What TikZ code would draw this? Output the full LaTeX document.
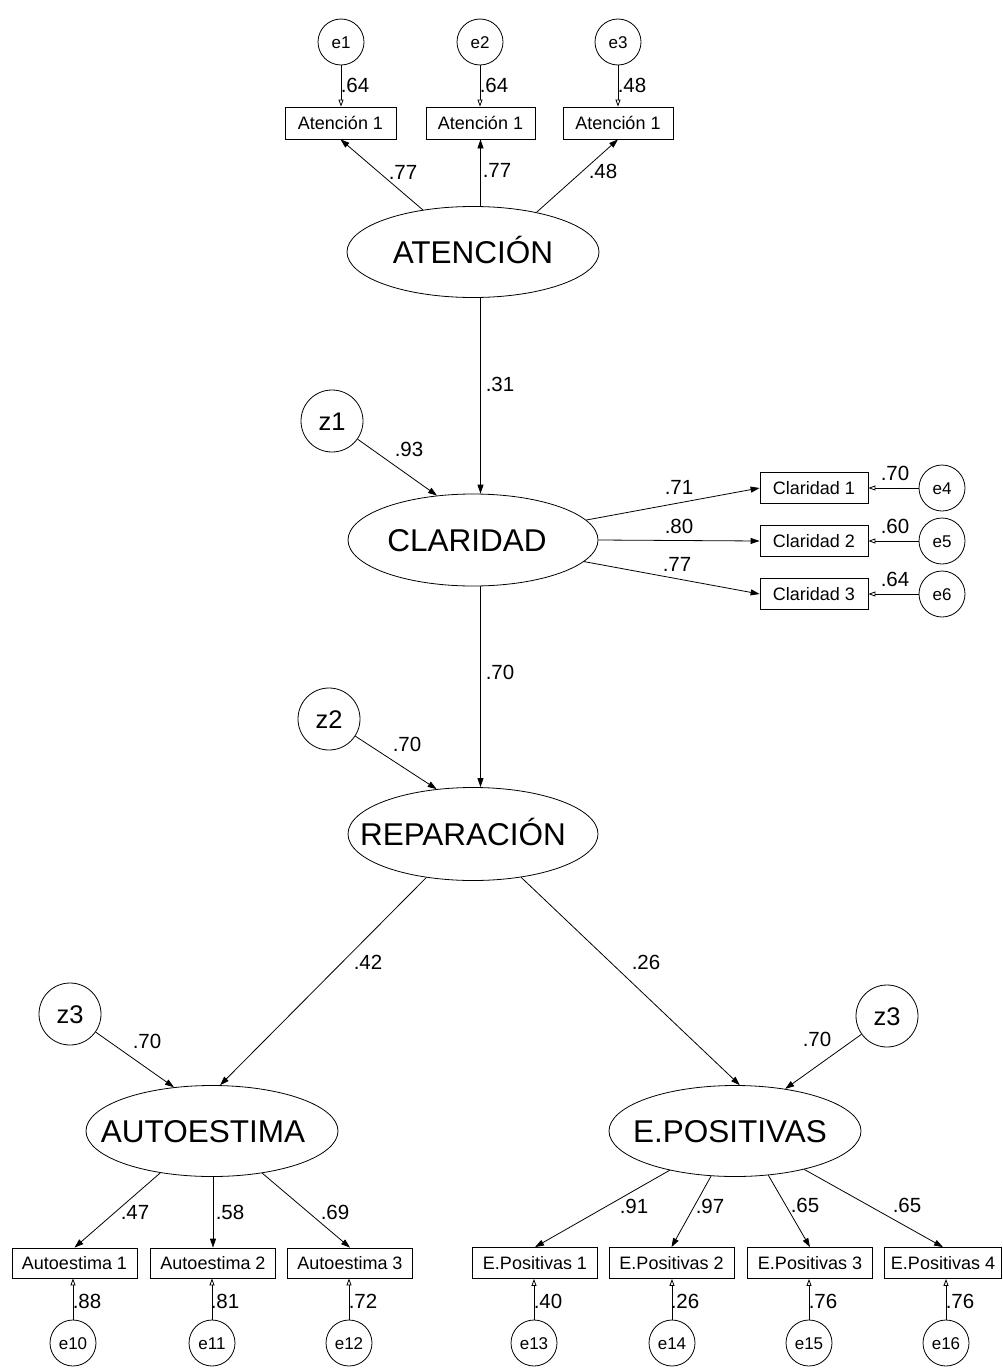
\documentclass[tikz,border=0pt]{standalone}
\usepackage{fontspec}
\setmainfont{Liberation Sans}
\usetikzlibrary{arrows.meta,shapes.geometric}

% latent label nudged sideways inside its ellipse (kern = -2 x shift)
\newcommand\latlabel[2]{\makebox[0pt]{\kern#1 #2}}

\begin{document}
\begin{tikzpicture}[x=1pt,y=-1pt,
  every path/.style={line width=0.8pt},
  lat/.style={ellipse, draw, minimum width=252pt, minimum height=91pt, inner sep=0pt,
    font=\fontsize{31.5}{32}\selectfont, text height=22.6pt, text depth=0pt},
  obs/.style={rectangle, draw, minimum height=31pt, inner sep=0pt,
    font=\fontsize{18}{20}\selectfont, text height=12.9pt, text depth=0pt},
  err/.style={circle, draw, minimum size=46pt, inner sep=0pt,
    font=\fontsize{17}{18}\selectfont, text height=12.2pt, text depth=0pt},
  dist/.style={circle, draw, minimum size=62pt, inner sep=0pt,
    font=\fontsize{25.5}{26}\selectfont, text height=18.3pt, text depth=0pt},
  coef/.style={inner sep=0pt, font=\fontsize{20.5}{22}\selectfont,
    text height=14.7pt, text depth=0pt},
  path/.style={-{Triangle[length=9pt,width=6pt]}},
  errpath/.style={-{Triangle[open,length=7pt,width=5pt]}}
]
\useasboundingbox (0,0) rectangle (1003,1370);

% ---------- latent variables ----------
\node[lat] (ate) at (473,252) {ATENCIÓN};
\node[lat, minimum width=250pt, minimum height=92pt] (cla) at (473,540) {\latlabel{-12pt}{CLARIDAD}};
\node[lat, minimum width=250pt, minimum height=93pt] (rep) at (473,834) {\latlabel{-20pt}{REPARACIÓN}};
\node[lat] (au) at (212,1131) {\latlabel{-18pt}{AUTOESTIMA}};
\node[lat] (ep) at (735,1131) {\latlabel{-10pt}{E.POSITIVAS}};

% ---------- disturbances ----------
\node[dist] (z1) at (332,421) {z1};
\node[dist] (z2) at (329,719) {z2};
\node[dist] (z3a) at (70,1014) {z3};
\node[dist] (z3b) at (887,1016) {z3};

% ---------- indicators: Atención ----------
\node[obs, minimum width=111pt, minimum height=32pt] (b1) at (340.5,123) {Atención 1};
\node[obs, minimum width=109pt, minimum height=32pt] (b2) at (480.5,123) {Atención 1};
\node[obs, minimum width=110pt, minimum height=32pt] (b3) at (618,123) {Atención 1};
\node[err] (e1) at (341,42) {e1};
\node[err] (e2) at (480,42) {e2};
\node[err] (e3) at (618,42) {e3};

% ---------- indicators: Claridad ----------
\node[obs, minimum width=108pt] (c1) at (814,488) {Claridad 1};
\node[obs, minimum width=108pt] (c2) at (814,541) {Claridad 2};
\node[obs, minimum width=108pt] (c3) at (814,594) {Claridad 3};
\node[err] (e4) at (942,488) {e4};
\node[err] (e5) at (942,541) {e5};
\node[err] (e6) at (942,594) {e6};

% ---------- indicators: Autoestima ----------
\node[obs, minimum width=125pt, minimum height=30pt] (a1) at (74.5,1263) {Autoestima 1};
\node[obs, minimum width=125pt, minimum height=30pt] (a2) at (213,1263) {Autoestima 2};
\node[obs, minimum width=125pt, minimum height=30pt] (a3) at (350,1263) {Autoestima 3};
\node[err] (e10) at (73,1343) {e10};
\node[err] (e11) at (212,1343) {e11};
\node[err] (e12) at (349,1343) {e12};

% ---------- indicators: E.Positivas ----------
\node[obs, minimum width=125pt] (p1) at (535,1263) {E.Positivas 1};
\node[obs, minimum width=125pt] (p2) at (671.5,1263) {E.Positivas 2};
\node[obs, minimum width=125pt] (p3) at (810,1263) {E.Positivas 3};
\node[obs, minimum width=117pt] (p4) at (943,1263) {E.Positivas 4};
\node[err] (e13) at (534,1343) {e13};
\node[err] (e14) at (672,1343) {e14};
\node[err] (e15) at (809,1343) {e15};
\node[err] (e16) at (946,1343) {e16};

% ---------- structural paths ----------
\draw[path] (ate.south -| b2) -- (cla.north -| b2);
\draw[path] (cla.south -| b2) -- (rep.north -| b2);
\draw[path] (rep.223) -- (au.80);
\draw[path] (rep.318) -- (ep.84);
\draw[path] (z1) -- (cla.129);
\draw[path] (z2) -- (rep.129);
\draw[path] (z3a) -- (au.131);
\draw[path] (z3b) -- (ep.40);

% ---------- loadings ----------
\draw[path] (ate.140.6) -- (b1.south);
\draw[path] (ate.north -| b2) -- (b2.south);
\draw[path] (ate.32) -- (b3.south);
\draw[path] (cla.10.2) -- (c1.west);
\draw[path] (cla.east) -- (c2.west);
\draw[path] (cla.349.4) -- (c3.west);
\draw[path] (au.219.5) -- (a1.north);
\draw[path] (au.south -| a2) -- (a2.north);
\draw[path] (au.320) -- (a3.north);
\draw[path] (ep.211.6) -- (p1.north);
\draw[path] (ep.242) -- (p2.north);
\draw[path] (ep.307) -- (p3.north);
\draw[path] (ep.331) -- (p4.north);

% ---------- measurement errors ----------
\draw[errpath] (e1) -- (e1 |- b1.north);
\draw[errpath] (e2) -- (e2 |- b2.north);
\draw[errpath] (e3) -- (e3 |- b3.north);
\draw[errpath] (e4) -- (c1.east);
\draw[errpath] (e5) -- (c2.east);
\draw[errpath] (e6) -- (c3.east);
\draw[errpath] (e10) -- (e10 |- a1.south);
\draw[errpath] (e11) -- (e11 |- a2.south);
\draw[errpath] (e12) -- (e12 |- a3.south);
\draw[errpath] (e13) -- (e13 |- p1.south);
\draw[errpath] (e14) -- (e14 |- p2.south);
\draw[errpath] (e15) -- (e15 |- p3.south);
\draw[errpath] (e16) -- (e16 |- p4.south);

% ---------- coefficients ----------
\node[coef] (k1) at (355,85) {.64};
\node[coef] (k2) at (494,85) {.64};
\node[coef] (k3) at (632,85) {.48};
\node[coef] (k4) at (403,172) {.77};
\node[coef] (k5) at (497,170) {.77};
\node[coef] (k6) at (603,171) {.48};
\node[coef] (k7) at (500,384) {.31};
\node[coef] (k8) at (409,449) {.93};
\node[coef] (k9) at (679,487) {.71};
\node[coef] (k10) at (679,526) {.80};
\node[coef] (k11) at (677,564) {.77};
\node[coef] (k12) at (895,473) {.70};
\node[coef] (k13) at (895,526) {.60};
\node[coef] (k14) at (895,579) {.64};
\node[coef] (k15) at (500,672) {.70};
\node[coef] (k16) at (407,744) {.70};
\node[coef] (k17) at (368,962) {.42};
\node[coef] (k18) at (646,962) {.26};
\node[coef] (k19) at (147,1041) {.70};
\node[coef] (k20) at (817,1039) {.70};
\node[coef] (k21) at (135,1212) {.47};
\node[coef] (k22) at (230,1212) {.58};
\node[coef] (k23) at (335,1212) {.69};
\node[coef] (k24) at (634,1206) {.91};
\node[coef] (k25) at (710,1206) {.97};
\node[coef] (k26) at (805,1205) {.65};
\node[coef] (k27) at (907,1205) {.65};
\node[coef] (k28) at (87,1301) {.88};
\node[coef] (k29) at (225,1301) {.81};
\node[coef] (k30) at (363,1301) {.72};
\node[coef] (k31) at (548,1301) {.40};
\node[coef] (k32) at (685,1301) {.26};
\node[coef] (k33) at (823,1301) {.76};
\node[coef] (k34) at (960,1301) {.76};
\end{tikzpicture}
\end{document}
